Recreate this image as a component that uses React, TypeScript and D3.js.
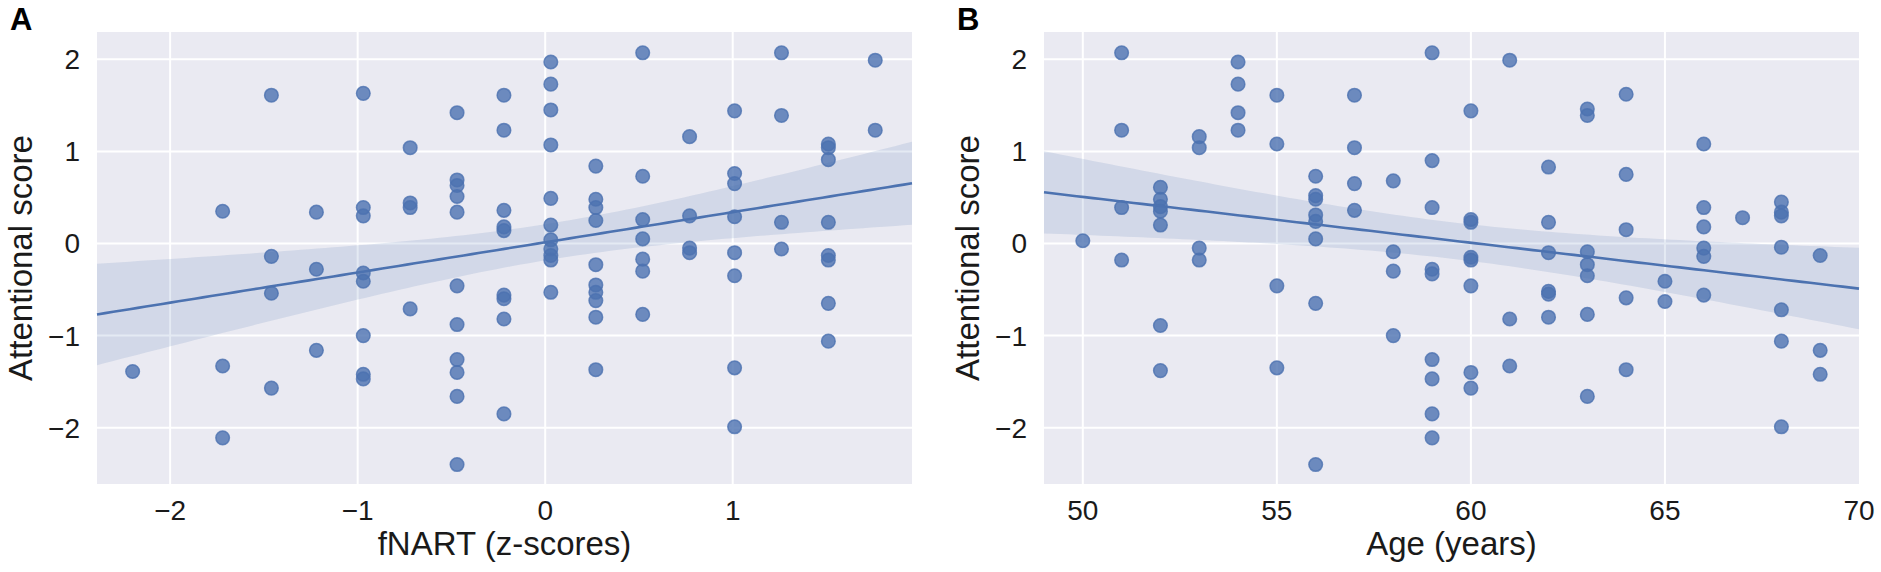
import React, { useEffect, useRef } from 'react';
import * as d3 from 'd3';

// Panel A: fNART z-score levels and the attentional scores observed at each level
const fnartLevels = [-2.2, -1.72, -1.46, -1.22, -0.97, -0.72, -0.47, -0.22, 0.03, 0.27, 0.52, 0.77, 1.01, 1.26, 1.51, 1.76];
const fnartScores = [
  [-1.39],
  [0.35, -1.33, -2.11],
  [1.61, -0.14, -0.54, -1.57],
  [0.34, -0.28, -1.16],
  [1.63, 0.39, 0.3, -0.32, -0.41, -1.0, -1.42, -1.47],
  [1.04, 0.44, 0.39, -0.71],
  [1.42, 0.69, 0.63, 0.51, 0.34, -0.46, -0.88, -1.26, -1.4, -1.66, -2.4],
  [1.61, 1.23, 0.36, 0.18, 0.14, -0.56, -0.6, -0.82, -1.85],
  [1.97, 1.73, 1.45, 1.07, 0.49, 0.2, 0.04, -0.06, -0.13, -0.18, -0.53],
  [0.84, 0.48, 0.39, 0.25, -0.23, -0.45, -0.53, -0.62, -0.8, -1.37],
  [2.07, 0.73, 0.26, 0.05, -0.17, -0.3, -0.77],
  [1.16, 0.3, -0.05, -0.1],
  [1.44, 0.76, 0.65, 0.29, -0.1, -0.35, -1.35, -1.99],
  [2.07, 1.39, 0.23, -0.06],
  [1.08, 1.04, 0.91, 0.23, -0.13, -0.18, -0.65, -1.06],
  [1.99, 1.23],
];

// Panel B: age in years and the attentional scores at each age
const ageLevels = [50, 51, 52, 53, 54, 55, 56, 57, 58, 59, 60, 61, 62, 63, 64, 65, 66, 67, 68, 69];
const ageScores = [
  [0.03],
  [2.07, 1.23, 0.39, -0.18],
  [0.61, 0.48, 0.4, 0.35, 0.2, -0.89, -1.38],
  [1.16, 1.04, -0.05, -0.18],
  [1.97, 1.73, 1.42, 1.23],
  [1.61, 1.08, -0.46, -1.35],
  [0.73, 0.52, 0.48, 0.31, 0.24, 0.05, -0.65, -2.4],
  [1.61, 1.04, 0.65, 0.36],
  [0.68, -0.09, -0.3, -1.0],
  [2.07, 0.9, 0.39, -0.28, -0.33, -1.26, -1.47, -1.85, -2.11],
  [1.44, 0.26, 0.23, -0.15, -0.18, -0.46, -1.4, -1.57],
  [1.99, -0.82, -1.33],
  [0.83, 0.23, -0.1, -0.52, -0.55, -0.8],
  [1.46, 1.39, -0.09, -0.23, -0.35, -0.77, -1.66],
  [1.62, 0.75, 0.15, -0.59, -1.37],
  [-0.41, -0.63],
  [1.08, 0.39, 0.18, -0.05, -0.14, -0.56],
  [0.28],
  [0.45, 0.34, 0.3, -0.04, -0.72, -1.06, -1.99],
  [-0.13, -1.16, -1.42],
];

const yTicks = [-2, -1, 0, 1, 2];
const fnartTicks = [-2, -1, 0, 1];
const ageTicks = [50, 55, 60, 65, 70];

const W = 1881;
const H = 572;
const TOP = 32;
const BOTTOM = 484;
const FONT = '"Liberation Sans", Arial, Helvetica, sans-serif';
const BLUE = '#4C72B0';

interface PanelOpts {
  letter: string;
  left: number;
  right: number;
  xDomain: [number, number];
  levels: number[];
  scores: number[][];
  xTicks: number[];
  xLabel: string;
}

function fmt(v: number) {
  return v < 0 ? `\u2212${Math.abs(v)}` : `${v}`;
}

function drawPanel(root: d3.Selection<SVGSVGElement, unknown, null, undefined>, o: PanelOpts) {
  const x = d3.scaleLinear().domain(o.xDomain).range([o.left, o.right]);
  const y = d3.scaleLinear().domain([-2.611, 2.296]).range([BOTTOM, TOP]);

  const pts = o.levels.flatMap((lv, i) => o.scores[i].map(s => ({ x: lv, y: s })));

  const g = root.append('g');

  // background
  g.append('rect')
    .attr('x', o.left)
    .attr('y', TOP)
    .attr('width', o.right - o.left)
    .attr('height', BOTTOM - TOP)
    .attr('fill', '#EAEAF2');

  // grid
  g.selectAll('.gx')
    .data(o.xTicks.filter(t => x(t) > o.left + 1 && x(t) < o.right - 1))
    .enter()
    .append('line')
    .attr('x1', d => x(d))
    .attr('x2', d => x(d))
    .attr('y1', TOP)
    .attr('y2', BOTTOM)
    .attr('stroke', '#fff')
    .attr('stroke-width', 2);

  g.selectAll('.gy')
    .data(yTicks)
    .enter()
    .append('line')
    .attr('x1', o.left)
    .attr('x2', o.right)
    .attr('y1', d => y(d))
    .attr('y2', d => y(d))
    .attr('stroke', '#fff')
    .attr('stroke-width', 2);

  // points
  g.selectAll('.pt')
    .data(pts)
    .enter()
    .append('circle')
    .attr('cx', d => x(d.x))
    .attr('cy', d => y(d.y))
    .attr('r', 6.8)
    .attr('fill', BLUE)
    .attr('fill-opacity', 0.8)
    .attr('stroke', BLUE)
    .attr('stroke-opacity', 0.8)
    .attr('stroke-width', 1.5);

  // linear fit + 95% CI of the mean
  const n = pts.length;
  const mx = d3.mean(pts, d => d.x)!;
  const my = d3.mean(pts, d => d.y)!;
  const sxx = d3.sum(pts, d => (d.x - mx) ** 2);
  const sxy = d3.sum(pts, d => (d.x - mx) * (d.y - my));
  const b = sxy / sxx;
  const a = my - b * mx;
  const s = Math.sqrt(d3.sum(pts, d => (d.y - a - b * d.x) ** 2) / (n - 2));
  const t = 1.985;
  const grid = d3.range(0, 101).map(i => o.xDomain[0] + (i / 100) * (o.xDomain[1] - o.xDomain[0]));
  const band = grid.map(gx => {
    const fit = a + b * gx;
    const se = s * Math.sqrt(1 / n + (gx - mx) ** 2 / sxx);
    return { x: gx, lo: fit - t * se, hi: fit + t * se, fit };
  });

  g.append('path')
    .datum(band)
    .attr('d', d3.area<any>().x(d => x(d.x)).y0(d => y(d.lo)).y1(d => y(d.hi)))
    .attr('fill', BLUE)
    .attr('fill-opacity', 0.15);

  g.append('path')
    .datum(band)
    .attr('d', d3.line<any>().x(d => x(d.x)).y(d => y(d.fit)))
    .attr('fill', 'none')
    .attr('stroke', BLUE)
    .attr('stroke-width', 2.6);

  // tick labels
  g.selectAll('.ty')
    .data(yTicks)
    .enter()
    .append('text')
    .attr('x', o.left - 17)
    .attr('y', d => y(d) + 9.9)
    .attr('text-anchor', 'end')
    .style('font-family', FONT)
    .style('font-size', '28px')
    .attr('fill', '#1a1a1a')
    .text(d => fmt(d));

  g.selectAll('.tx')
    .data(o.xTicks)
    .enter()
    .append('text')
    .attr('x', d => x(d))
    .attr('y', 520)
    .attr('text-anchor', 'middle')
    .style('font-family', FONT)
    .style('font-size', '28px')
    .attr('fill', '#1a1a1a')
    .text(d => fmt(d));

  // axis labels
  g.append('text')
    .attr('x', (o.left + o.right) / 2)
    .attr('y', 555)
    .attr('text-anchor', 'middle')
    .style('font-family', FONT)
    .style('font-size', '33px')
    .attr('fill', '#1a1a1a')
    .text(o.xLabel);

  g.append('text')
    .attr('transform', `translate(${o.left - 65},${(TOP + BOTTOM) / 2}) rotate(-90)`)
    .attr('text-anchor', 'middle')
    .style('font-family', FONT)
    .style('font-size', '33px')
    .attr('fill', '#1a1a1a')
    .text('Attentional score');

  // panel letter
  g.append('text')
    .attr('x', o.left - 87)
    .attr('y', 30)
    .style('font-family', FONT)
    .style('font-size', '31px')
    .style('font-weight', 'bold')
    .attr('fill', '#000')
    .text(o.letter);
}

export default function App() {
  const ref = useRef<SVGSVGElement>(null);

  useEffect(() => {
    if (!ref.current) return;
    const svg = d3.select(ref.current);
    svg.selectAll('*').remove();

    svg.append('rect').attr('width', W).attr('height', H).attr('fill', '#fff');

    drawPanel(svg, {
      letter: 'A',
      left: 97,
      right: 912,
      xDomain: [-2.39, 1.956],
      levels: fnartLevels,
      scores: fnartScores,
      xTicks: fnartTicks,
      xLabel: 'fNART (z-scores)',
    });

    drawPanel(svg, {
      letter: 'B',
      left: 1044,
      right: 1859,
      xDomain: [49, 70],
      levels: ageLevels,
      scores: ageScores,
      xTicks: ageTicks,
      xLabel: 'Age (years)',
    });
  }, []);

  return (
    <>
      <style>{`body{margin:0}`}</style>
      <svg ref={ref} width={W} height={H} style={{ display: 'block' }} />
    </>
  );
}
